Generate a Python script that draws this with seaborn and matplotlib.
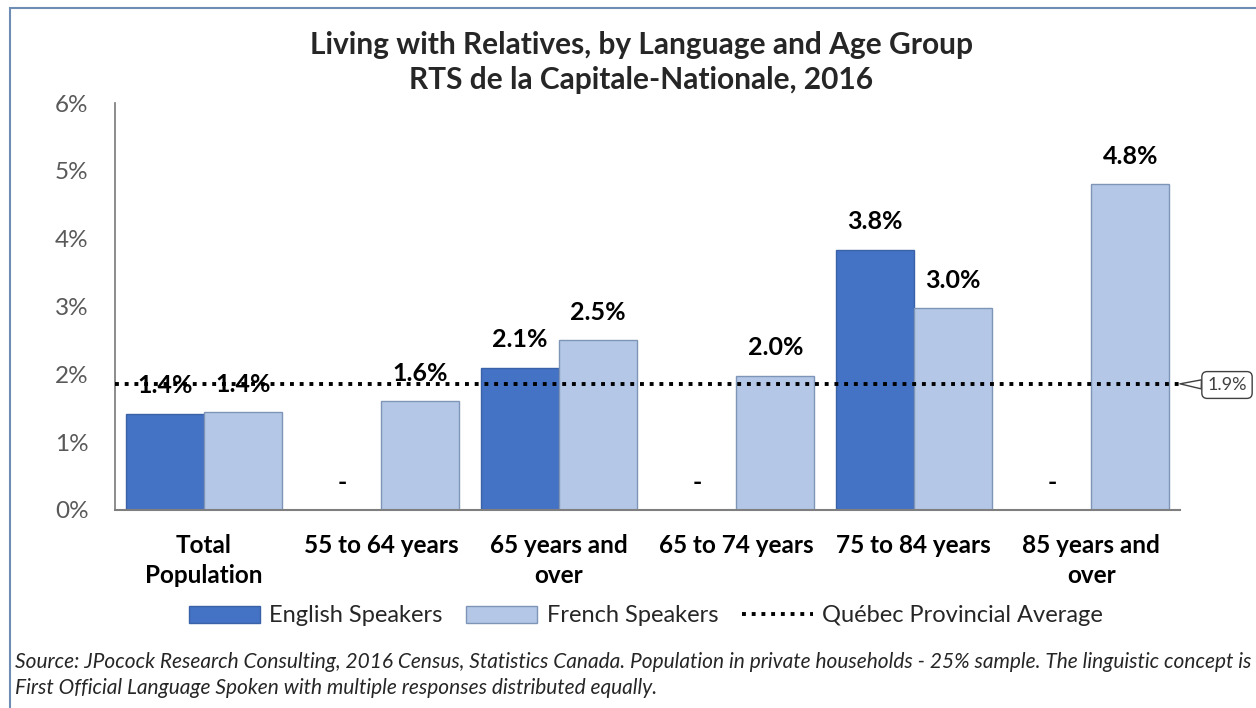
import matplotlib
matplotlib.use("Agg")
import matplotlib.pyplot as plt
import numpy as np
import pandas as pd
import seaborn as sns
from matplotlib.lines import Line2D
from matplotlib.patches import Patch, Rectangle

AGE_GROUPS = ["Total\nPopulation", "55 to 64 years", "65 years and\nover",
              "65 to 74 years", "75 to 84 years", "85 years and\nover"]
ENGLISH = [1.42, np.nan, 2.1, np.nan, 3.84, np.nan]
FRENCH = [1.44, 1.6, 2.5, 1.98, 2.98, 4.8]
QC_AVERAGE = 1.86

SERIES = ["English Speakers", "French Speakers"]
COLORS = {"English Speakers": "#4472C4", "French Speakers": "#B4C7E7"}
EDGES = {"English Speakers": "#3A62A8", "French Speakers": "#7F95B8"}

FONT = ["Lato", "DejaVu Sans"]

sns.set_theme(style="white")
plt.rcParams["font.family"] = FONT

df = pd.DataFrame({
    "Age": AGE_GROUPS * 2,
    "Series": [SERIES[0]] * len(AGE_GROUPS) + [SERIES[1]] * len(AGE_GROUPS),
    "Value": ENGLISH + FRENCH,
})

fig = plt.figure(figsize=(12.56, 7.08), dpi=100)
ax = fig.add_axes([115 / 1256, 1 - 510 / 708, (1180 - 115) / 1256, (510 - 103) / 708])

sns.barplot(data=df, x="Age", y="Value", hue="Series", order=AGE_GROUPS,
            hue_order=SERIES, palette=COLORS, saturation=1, width=0.88, dodge=True,
            errorbar=None, legend=False, ax=ax)

for bar in ax.patches:
    fc = bar.get_facecolor()
    bar.set_edgecolor(EDGES[SERIES[0]] if fc[2] < 0.85 else EDGES[SERIES[1]])
    bar.set_linewidth(1.0)

# value labels ("-" where no data)
offsets = [-0.22, 0.22]
for s_idx, vals in enumerate([ENGLISH, FRENCH]):
    for i, v in enumerate(vals):
        h = 0 if np.isnan(v) else v
        txt = "-" if np.isnan(v) else f"{v:.1f}%"
        ax.annotate(txt, (i + offsets[s_idx], h), xytext=(0, 20),
                    textcoords="offset points", ha="center", va="center",
                    fontsize=18, fontweight="bold", color="black")

# provincial average
ax.axhline(QC_AVERAGE, color="black", linewidth=2.8,
           linestyle=(0, (1, 1.5)), dash_capstyle="butt", zorder=5)
ax.annotate(f"{QC_AVERAGE:.1f}%", xy=(1.0, QC_AVERAGE), xycoords=("axes fraction", "data"),
            xytext=(1227 / 1256, 1 - 385 / 708), textcoords="figure fraction",
            ha="center", va="center", fontsize=13, color="#404040",
            bbox=dict(boxstyle="round,pad=0.3,rounding_size=0.3", fc="white", ec="#404040", lw=1),
            arrowprops=dict(arrowstyle="wedge,tail_width=0.5", fc="white", ec="#404040",
                            lw=1, shrinkA=0, shrinkB=0))

ax.set_ylim(0, 6)
ax.set_xlim(-0.5, 5.5)
ax.set_yticks(range(0, 7))
ax.set_yticklabels([f"{t}%" for t in range(0, 7)], fontsize=17.5, color="#595959")
ax.tick_params(axis="y", length=0, pad=19)
ax.tick_params(axis="x", length=0, pad=17)
for lab in ax.get_xticklabels():
    lab.set_fontsize(17.5)
    lab.set_fontweight("bold")
    lab.set_color("black")
    lab.set_linespacing(1.4)
ax.set_xlabel("")
ax.set_ylabel("")
sns.despine(ax=ax, top=True, right=True)
ax.spines["left"].set_color("#7F7F7F")
ax.spines["bottom"].set_color("#7F7F7F")
ax.spines["bottom"].set_linewidth(1.5)

fig.text(641 / 1256, 1 - 45 / 708, "Living with Relatives, by Language and Age Group",
         ha="center", va="center", fontsize=21.5, fontweight="bold")
fig.text(641 / 1256, 1 - 80 / 708, "RTS de la Capitale-Nationale, 2016",
         ha="center", va="center", fontsize=21.5, fontweight="bold")

handles = [Patch(fc=COLORS[SERIES[0]], ec=EDGES[SERIES[0]]),
           Patch(fc=COLORS[SERIES[1]], ec=EDGES[SERIES[1]]),
           Line2D([], [], color="black", lw=2.8, linestyle=(0, (1, 1.5)))]
fig.legend(handles, SERIES + ["Québec Provincial Average"], loc="center",
           bbox_to_anchor=(646 / 1256, 1 - 616 / 708), ncol=3, frameon=False,
           fontsize=17, handlelength=3.0, handleheight=0.7, columnspacing=1.0,
           handletextpad=0.4)

fig.text(15 / 1256, 1 - 662 / 708,
         "Source: JPocock Research Consulting, 2016 Census, Statistics Canada. Population in private "
         "households - 25% sample. The linguistic concept is",
         ha="left", va="center", fontsize=15, style="italic", color="#262626")
fig.text(15 / 1256, 1 - 688 / 708,
         "First Official Language Spoken with multiple responses distributed equally.",
         ha="left", va="center", fontsize=15, style="italic", color="#262626")

# outer chart frame
fig.patches.append(Rectangle((10 / 1256, -0.05), 1.1, 1 - 8 / 708 + 0.05,
                             transform=fig.transFigure, fill=False,
                             ec="#6E8DB5", lw=1.5))

fig.savefig("out.png", dpi=100)
